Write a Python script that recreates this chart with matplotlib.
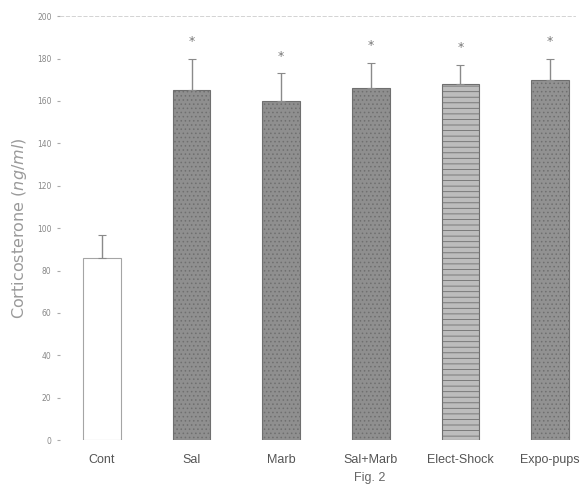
import matplotlib.pyplot as plt
import numpy as np

groupes = ["Cont", "Sal", "Marb", "Sal+Marb", "Elect-Shock", "Expo-pups"]
moyennes = [86, 165, 160, 166, 168, 170]
erreurs = [11, 15, 13, 12, 9, 10]
signif = ["", "*", "*", "*", "*", "*"]
yticks = [0, 20, 40, 60, 80, 100, 120, 140, 160, 180, 200]

plt.rcParams["hatch.color"] = "#6e6e6e"
plt.rcParams["hatch.linewidth"] = 0.6

fig = plt.figure(figsize=(5.82, 4.88), dpi=100)
ax = fig.add_axes([0.103, 0.098, 0.885, 0.869])

x = np.arange(len(groupes))
couleurs = ["white", "#8f8f8f", "#8f8f8f", "#8f8f8f", "#bdbdbd", "#929292"]
hachures = [None, "....", "....", "....", "---", "...."]

for i in range(len(groupes)):
    ax.bar(x[i], moyennes[i], width=0.42, color=couleurs[i],
           edgecolor="#a5a5a5" if i == 0 else "#6f6f6f",
           hatch=hachures[i], linewidth=0.8)
    ax.errorbar(x[i], moyennes[i], yerr=[[0], [erreurs[i]]], fmt="none",
                ecolor="#8a8a8a", elinewidth=1, capsize=3, capthick=0.8)
    if signif[i]:
        ax.text(x[i], moyennes[i] + erreurs[i] + 5, signif[i],
                ha="center", va="bottom", fontsize=9, color="#777777")

ax.set_xlim(-0.47, 5.28)
ax.set_ylim(0, 200)
ax.set_yticks(yticks)
ax.set_yticklabels([str(t) for t in yticks], fontsize=5.5, color="#888888")
ax.set_xticks(x)
ax.set_xticklabels(groupes, fontsize=9, color="#555555",
                   family="Liberation Sans")
ax.tick_params(axis="x", length=0, pad=10)
ax.tick_params(axis="y", length=2, color="#aaaaaa", pad=4)

for s in ["left", "right", "bottom"]:
    ax.spines[s].set_visible(False)
ax.spines["top"].set_color("#cccccc")
ax.spines["top"].set_linestyle((0, (4, 3)))
ax.spines["top"].set_linewidth(0.6)

ax.set_ylabel("Corticosterone $\\it{(ng/ml)}$", fontsize=11.5,
              color="#9a9a9a", labelpad=6)

fig.text(0.636, 0.015, "Fig. 2", ha="center", fontsize=9, color="#666666",
         family="Liberation Sans")

plt.savefig("out.png", dpi=100)
